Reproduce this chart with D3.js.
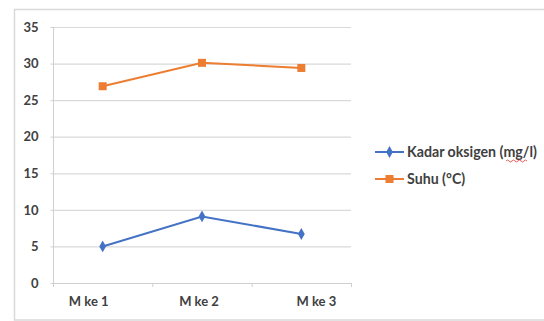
<!DOCTYPE html>
<html><head><meta charset="utf-8">
<script src="https://cdn.jsdelivr.net/npm/d3@7"></script>
<style>body{margin:0;background:#fff}svg{display:block}text{font-family:Lato,"Open Sans",sans-serif;fill:#404040}</style>
</head><body><svg id="c" width="544" height="321"></svg>
<script>
const categories = ["M ke 1","M ke 2","M ke 3"];
const oksigen = [5.0, 9.1, 6.7];
const suhu = [26.9, 30.1, 29.4];
const yTicks = [0,5,10,15,20,25,30,35];
const seriesNames = ["Kadar oksigen (mg/l)","Suhu (°C)"];

const svg = d3.select("#c");
svg.append("rect").attr("x",14.5).attr("y",9.5).attr("width",560).attr("height",310.5)
  .attr("fill","none").attr("stroke","#d9d9d9").attr("stroke-width",1.5);

const L=53, R=351, T=27, B=283;
const x = d3.scaleBand().domain(categories).range([L,R]);
const y = d3.scaleLinear().domain([0,35]).range([B,T]);

const g = svg.append("g");
g.selectAll(".grid").data(yTicks.filter(d=>d>0)).join("line")
  .attr("x1",L).attr("x2",R).attr("y1",d=>y(d)+0.5).attr("y2",d=>y(d)+0.5)
  .attr("stroke","#d9d9d9").attr("stroke-width",1.2);

const ya = svg.append("g").attr("transform",`translate(${L+0.5},0)`)
  .call(d3.axisLeft(y).tickValues(yTicks).tickSize(3).tickPadding(12));
ya.select(".domain").attr("stroke","#d0d0d0").attr("d",`M0,${T}V${B}`);
ya.selectAll(".tick line").attr("stroke","#d0d0d0");
ya.selectAll("text").style("font-size","13px").style("font-family","Lato").attr("fill","#404040").style("font-weight","bold");

const xa = svg.append("g").attr("transform",`translate(0,${B+0.5})`)
  .call(d3.axisBottom(x).tickSize(0).tickPadding(13));
xa.select(".domain").attr("stroke","#d0d0d0").attr("d",`M${L},0H${R}`);
const labelShift = [-14,-3,15];
xa.selectAll("text").style("font-size","13px").style("font-family","Lato").attr("fill","#404040").style("font-weight","bold")
  .attr("dx",(d,i)=>labelShift[i]);
const tickPos = [L, ...categories.map(c=>x(c)+x.bandwidth())];
svg.append("g").selectAll("line").data(tickPos).join("line")
  .attr("x1",d=>d+0.5).attr("x2",d=>d+0.5).attr("y1",B).attr("y2",B+4).attr("stroke","#d0d0d0");

const cx = c => x(c)+x.bandwidth()/2;
const line = d3.line().x((d,i)=>cx(categories[i])).y(d=>y(d));
const colors = ["#4472c4","#ed7d31"];

svg.append("path").datum(oksigen).attr("d",line).attr("fill","none").attr("stroke",colors[0]).attr("stroke-width",2);
svg.append("path").datum(suhu).attr("d",line).attr("fill","none").attr("stroke",colors[1]).attr("stroke-width",2);

const diamond = d3.symbol().type(d3.symbolDiamond).size(40);
svg.append("g").selectAll("path").data(oksigen).join("path")
  .attr("transform",(d,i)=>`translate(${cx(categories[i])},${y(d)})`).attr("d",diamond).attr("fill",colors[0]);
svg.append("g").selectAll("rect").data(suhu).join("rect")
  .attr("x",(d,i)=>cx(categories[i])-4).attr("y",d=>y(d)-4).attr("width",8).attr("height",8).attr("fill",colors[1]);

// legend
const lg = svg.append("g");
const ly = [152,179];
seriesNames.forEach((n,i)=>{
  lg.append("line").attr("x1",375).attr("x2",404).attr("y1",ly[i]).attr("y2",ly[i]).attr("stroke",colors[i]).attr("stroke-width",2);
  if(i===0){
    lg.append("path").attr("transform",`translate(389.5,${ly[i]})`).attr("d",diamond).attr("fill",colors[i]);
  } else {
    lg.append("rect").attr("x",385.5).attr("y",ly[i]-4).attr("width",8).attr("height",8).attr("fill",colors[i]);
  }
  lg.append("text").attr("x",407).attr("y",ly[i]).attr("dy","0.35em").style("font-size","14.2px").style("font-weight","bold").text(n);
});
// spell-check squiggle under "mg"
lg.append("path").attr("d","M506,161 q1.5,-2 3,0 t3,0 t3,0 t3,0 t3,0 t3,0 t3,0")
  .attr("fill","none").attr("stroke","#e03030").attr("stroke-width",0.8);
</script></body></html>
